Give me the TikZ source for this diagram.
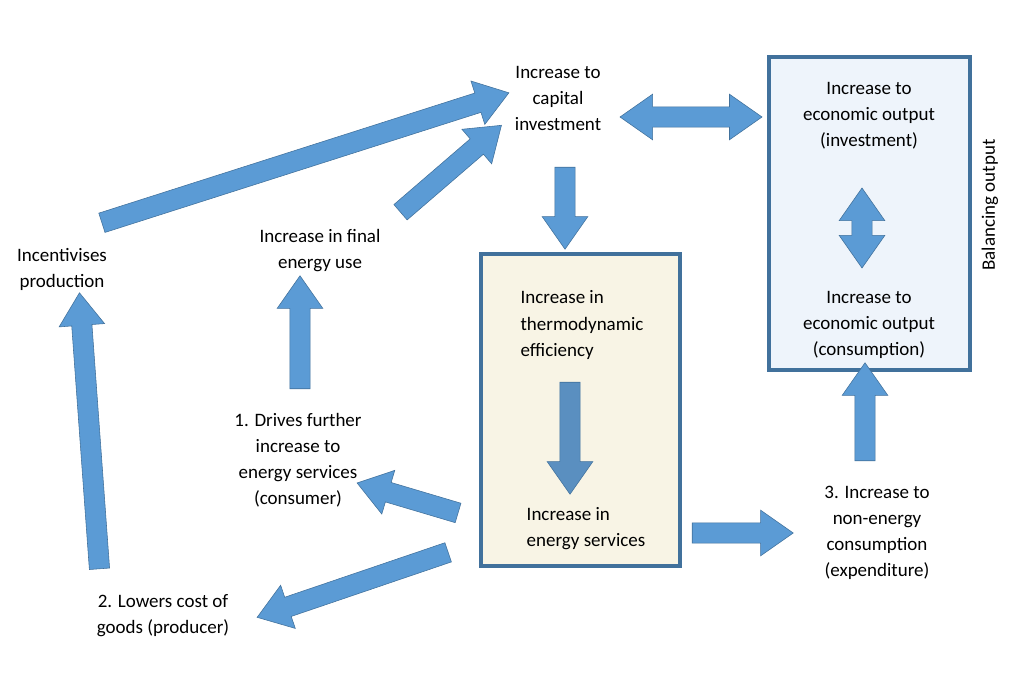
\documentclass[tikz,border=0pt]{standalone}
\usepackage{fontspec}
\setmainfont{Carlito}
\usetikzlibrary{shapes.arrows,calc}
\definecolor{arrowblue}{HTML}{5B9BD5}
\definecolor{arrowline}{HTML}{41719C}
\definecolor{innerblue}{HTML}{5A8FC0}
\definecolor{boxcream}{HTML}{F8F4E5}
\definecolor{boxblue}{HTML}{EEF4FB}
\tikzset{
  lbl/.style={align=center, font=\fontsize{13.5}{18.5}\selectfont},
  box/.style={draw=arrowline, line width=2.2pt},
  bigarrow/.style={single arrow, draw=arrowline, fill=arrowblue, thin, inner xsep=0pt, inner ysep=7pt,
    single arrow head extend=9pt, single arrow tip angle=70, anchor=center},
  bothways/.style={double arrow, draw=arrowline, fill=arrowblue, thin, inner xsep=0pt, inner ysep=7pt,
    double arrow head extend=9pt, double arrow tip angle=70, anchor=center}
}
\newcommand{\blockarrow}[3][bigarrow]{%
  \path let \p1=(#2), \p2=(#3), \n1={atan2(\y2-\y1,\x2-\x1)}, \n2={veclen(\x2-\x1,\y2-\y1)} in
    node[#1, minimum height=\n2, rotate=\n1] at ($(#2)!0.5!(#3)$) {};}
\begin{document}
\begin{tikzpicture}[x=0.025cm, y=-0.025cm]
\useasboundingbox[fill=white] (0,0) rectangle (1024,682);

%boxes
\draw[box, fill=boxcream] (481,254) rectangle (680,566);
\draw[box, fill=boxblue] (769,57) rectangle (970,370);

%texts
\node[lbl] (capital) at (558,98) {Increase to\\capital\\investment};
\node[lbl] (outinv) at (869,116) {Increase to\\economic output\\(investment)};
\node[lbl] (outcons) at (869,325) {Increase to\\economic output\\(consumption)};
\node[lbl, rotate=90] (balance) at (990,205) {Balancing output};
\node[lbl] (incent) at (62,269) {Incentivises\\production};
\node[lbl] (final) at (320,251) {Increase in final\\energy use};
\node[lbl, align=left] (thermo) at (582,325) {Increase in\\thermodynamic\\efficiency};
\node[lbl, align=left] (services) at (586,529) {Increase in\\energy services};
\node[lbl] (drives) at (298,460) {1. Drives further\\increase to\\energy services\\(consumer)};
\node[lbl] (lowers) at (163,616) {2. Lowers cost of\\goods (producer)};
\node[lbl] (nonenergy) at (877,533) {3. Increase to\\non-energy\\consumption\\(expenditure)};

%arrow ends
\coordinate (a1s) at (95,225);  \coordinate (a1e) at (502,95);
\coordinate (a2s) at (395,217); \coordinate (a2e) at (496,130);
\coordinate (a3s) at (565,160); \coordinate (a3e) at (565,242);
\coordinate (a4s) at (620,117); \coordinate (a4e) at (762,117);
\coordinate (a5s) at (862,188); \coordinate (a5e) at (862,268);
\coordinate (a6s) at (300,396); \coordinate (a6e) at (300,283);
\coordinate (a7s) at (570,375); \coordinate (a7e) at (570,487);
\coordinate (a8s) at (465,515); \coordinate (a8e) at (364,485);
\coordinate (a9s) at (455,550); \coordinate (a9e) at (264,615);
\coordinate (a10s) at (685,533); \coordinate (a10e) at (786,533);
\coordinate (a11s) at (865,468); \coordinate (a11e) at (865,370);
\coordinate (a12s) at (100,576); \coordinate (a12e) at (80,300);

%block arrows
\blockarrow{a1s}{a1e}
\blockarrow{a2s}{a2e}
\blockarrow{a3s}{a3e}
\blockarrow[bothways]{a4s}{a4e}
\blockarrow[bothways]{a5s}{a5e}
\blockarrow{a6s}{a6e}
\blockarrow[bigarrow, fill=innerblue]{a7s}{a7e}
\blockarrow{a8s}{a8e}
\blockarrow{a9s}{a9e}
\blockarrow{a10s}{a10e}
\blockarrow{a11s}{a11e}
\blockarrow{a12s}{a12e}
\end{tikzpicture}
\end{document}
